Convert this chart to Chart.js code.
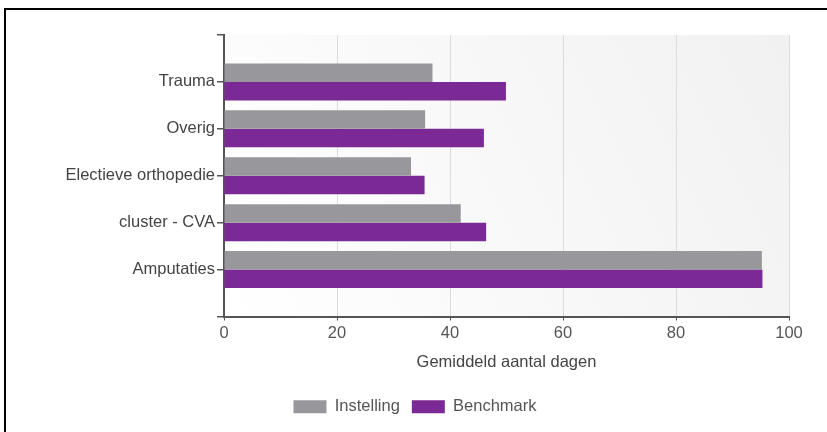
<!DOCTYPE html>
<html>
<head>
<meta charset="utf-8">
<script src="https://cdn.jsdelivr.net/npm/chart.js@4"></script>
<style>
    html, body { margin: 0; padding: 0; background: #fff; }
    #wrap { position: relative; width: 827px; height: 432px; overflow: hidden; }
    #frame { position: absolute; left: 4px; top: 8px; width: 900px; height: 500px; border-left: 2px solid #000; border-top: 2px solid #000; }
    canvas { position: absolute; left: 0; top: 0; }
</style>
</head>
<body>
<div id="wrap">
    <div id="frame"></div>
    <canvas id="myChart" width="827" height="432"></canvas>
</div>
<script>
const categories = ["Trauma", "Overig", "Electieve orthopedie", "cluster - CVA", "Amputaties"];
const instelling = [36.9, 35.6, 33.1, 41.9, 95.2];
const benchmark = [49.9, 46.0, 35.5, 46.4, 95.3];
const xTicks = [0, 20, 40, 60, 80, 100];
const xTitle = "Gemiddeld aantal dagen";

// blank slots at both ends so the axis runs one step past the first and last category
let labels = [""].concat(categories, [""]);
let padData = arr => [null].concat(arr, [null]);

const font = { family: "'Liberation Sans', Arial, sans-serif", size: 16.5 };

/* light gradient behind the plot */
const plotBackground = {
    id: "plotBackground",
    beforeDraw(chart) {
        let a = chart.chartArea;
        let ctx = chart.ctx;
        let g = ctx.createLinearGradient(a.left, a.bottom, a.right, a.top);
        g.addColorStop(0, "#ffffff");
        g.addColorStop(1, "#f1f1f1");
        ctx.save();
        ctx.fillStyle = g;
        ctx.fillRect(a.left, a.top, a.right - a.left, a.bottom - a.top);
        ctx.restore();
    }
};

let ctx = document.getElementById("myChart");
let myChart = new Chart(ctx, {
    type: "bar",
    data: {
        labels: labels,
        datasets: [{
            label: "Instelling",
            data: padData(instelling),
            backgroundColor: "#98989c",
            barPercentage: 1,
            categoryPercentage: 0.79
        }, {
            label: "Benchmark",
            data: padData(benchmark),
            backgroundColor: "#7a2995",
            barPercentage: 1,
            categoryPercentage: 0.79
        }]
    },
    options: {
        indexAxis: "y",
        responsive: false,
        animation: false,
        layout: { padding: { left: 41, right: 38, top: 35, bottom: 7 } },
        scales: {
            x: {
                type: "linear",
                min: xTicks[0],
                max: xTicks[xTicks.length - 1],
                afterBuildTicks: scale => { scale.ticks = xTicks.map(v => ({ value: v })); },
                afterFit: scale => { scale.height = 70; },
                ticks: { font: font, color: "#555", padding: 3 },
                grid: { color: "#dcdcdc", tickColor: "#555", tickLength: 4 },
                border: { color: "#555", width: 2 },
                title: { display: true, text: xTitle, font: font, color: "#444", padding: { top: 2, bottom: 14 } }
            },
            y: {
                type: "category",
                offset: false,
                afterFit: scale => { scale.width = 183; },
                ticks: { font: font, color: "#444", padding: 2, autoSkip: false },
                grid: { offset: false, drawOnChartArea: false, color: "#555", lineWidth: 1.5, tickLength: 7 },
                border: { color: "#555", width: 2 }
            }
        },
        plugins: {
            legend: {
                position: "bottom",
                labels: { boxWidth: 33, boxHeight: 13, font: font, color: "#555", padding: 12 }
            },
            tooltip: { enabled: false }
        }
    },
    plugins: [plotBackground]
});
</script>
</body>
</html>
